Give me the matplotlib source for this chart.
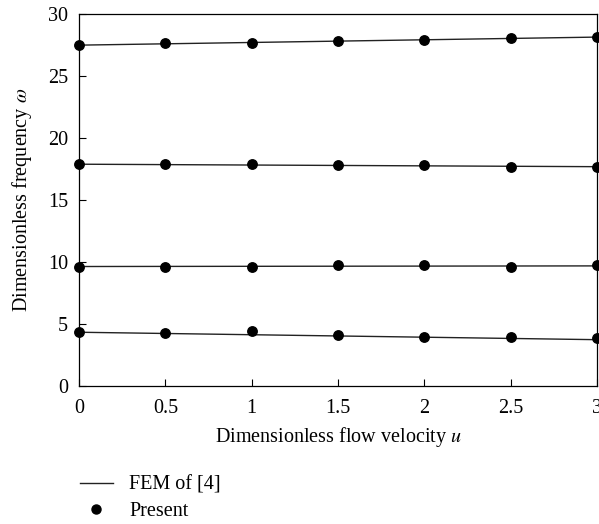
import numpy as np
import matplotlib.pyplot as plt
from matplotlib.lines import Line2D

plt.rcParams['font.family'] = ['Liberation Serif', 'DejaVu Serif']
plt.rcParams['mathtext.fontset'] = 'stix'

u = [0, 0.5, 1, 1.5, 2, 2.5, 3]

# FEM of [4] (lines, end points)
fem_u = [0, 3]
fem1 = [4.35, 3.75]
fem2 = [9.65, 9.70]
fem3 = [17.9, 17.7]
fem4 = [27.5, 28.15]

# Present (points)
pres1 = [4.35, 4.27, 4.43, 4.15, 3.95, 3.93, 3.85]
pres2 = [9.65, 9.65, 9.65, 9.78, 9.78, 9.65, 9.78]
pres3 = [17.9, 17.9, 17.9, 17.8, 17.8, 17.7, 17.7]
pres4 = [27.5, 27.65, 27.65, 27.8, 27.95, 28.05, 28.15]

fig = plt.figure(figsize=(5.99, 5.24), dpi=100)
ax = fig.add_axes([0.132, 0.263, 0.865, 0.710])

for f in [fem1, fem2, fem3, fem4]:
    ax.plot(fem_u, f, '-', color='#222222', lw=1.0, zorder=2)
for p in [pres1, pres2, pres3, pres4]:
    ax.plot(u, p, 'o', color='black', markersize=6.8, zorder=3, clip_on=False)

ax.set_xlim(0, 3)
ax.set_ylim(0, 30)
ax.set_xticks(u)
ax.set_xticklabels(['0', '0.5', '1', '1.5', '2', '2.5', '3'])
ax.set_yticks([0, 5, 10, 15, 20, 25, 30])
ax.tick_params(direction='in', labelsize=14.5, length=5, width=0.8)
ax.tick_params(axis='x', pad=9)
ax.tick_params(axis='y', pad=8)
for s in ax.spines.values():
    s.set_linewidth(0.9)

ax.set_xlabel(r'Dimensionless flow velocity $\mathit{u}$', fontsize=14.5, labelpad=5)
ax.set_ylabel(r'Dimensionless frequency $\mathit{\omega}$', fontsize=14.5, labelpad=10)

handles = [Line2D([], [], color='#222222', lw=1.0),
           Line2D([], [], color='black', marker='o', ls='none', markersize=6.5)]
fig.legend(handles, ['FEM of [4]', 'Present'], loc='upper left',
           bbox_to_anchor=(0.133, 0.092), frameon=False, fontsize=14.5,
           handlelength=1.65, handletextpad=0.8, labelspacing=0.35,
           borderpad=0, borderaxespad=0)

fig.savefig('out.png', dpi=100)
